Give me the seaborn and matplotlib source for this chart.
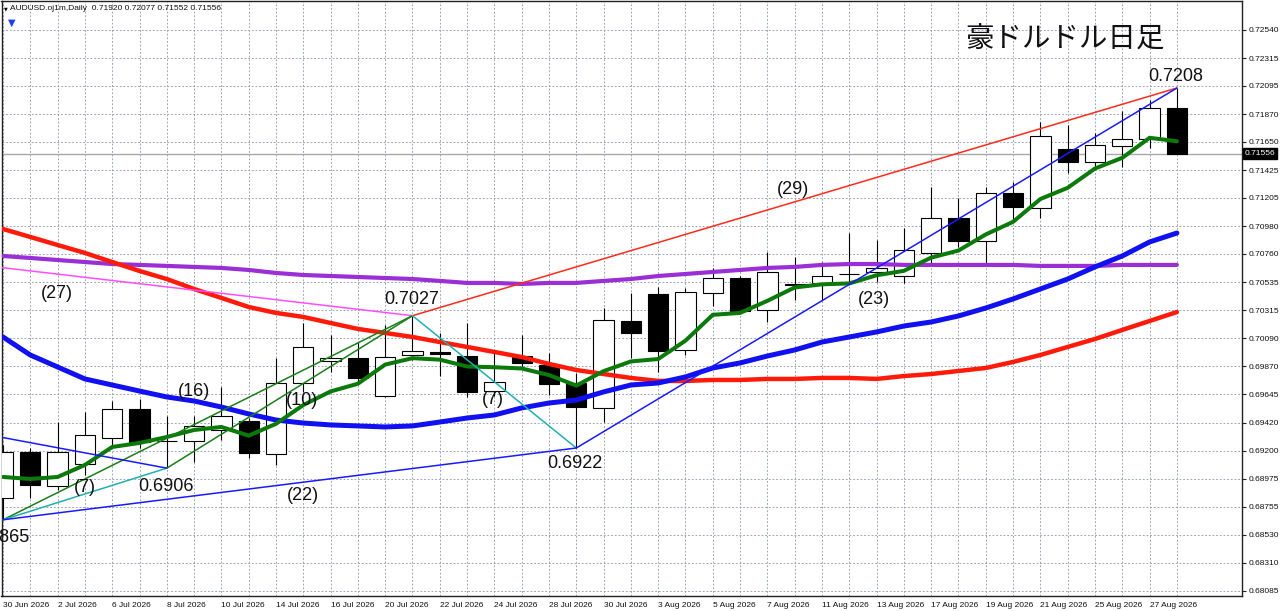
import numpy as np
import pandas as pd
import matplotlib
matplotlib.use("Agg")
import matplotlib.pyplot as plt
import matplotlib.transforms as mtransforms
import seaborn as sns

sns.set_style("white")
plt.rcParams['font.family'] = ['Liberation Sans', 'DejaVu Sans']

# daily bars, 30 Jun 2026 .. 28 Aug 2026
dates = pd.bdate_range("2026-06-30", periods=44)
date_labels = [f"{d.day} {d.strftime('%b %Y')}" for d in dates]

opens = [0.68823, 0.69188, 0.68918, 0.69093, 0.69299, 0.69530, 0.69276, 0.69276, 0.69363, 0.69434,
         0.69172, 0.69736, 0.69911, 0.69934, 0.69633, 0.69958, 0.69982, 0.69950, 0.69672, 0.69950,
         0.69879, 0.69736, 0.69538, 0.70228, 0.70442, 0.69998, 0.70450, 0.70569, 0.70315, 0.70522,
         0.70530, 0.70601, 0.70617, 0.70585, 0.70768, 0.71046, 0.70863, 0.71244, 0.71125, 0.71593,
         0.71490, 0.71617, 0.71673, 0.71920]
highs = [0.69244, 0.69220, 0.69426, 0.69506, 0.69593, 0.69609, 0.69474, 0.69474, 0.69704, 0.69458,
         0.69934, 0.70212, 0.70117, 0.70061, 0.70196, 0.70270, 0.70133, 0.70212, 0.69982, 0.70117,
         0.69974, 0.69815, 0.70331, 0.70450, 0.70498, 0.70490, 0.70649, 0.70585, 0.70776, 0.70736,
         0.70696, 0.70926, 0.70871, 0.70966, 0.71292, 0.71204, 0.71292, 0.71331, 0.71808, 0.71784,
         0.71720, 0.71895, 0.71982, 0.72077]
lows = [0.68650, 0.68823, 0.68887, 0.69006, 0.69228, 0.69220, 0.69060, 0.69109, 0.69284, 0.69141,
        0.69085, 0.69665, 0.69823, 0.69736, 0.69625, 0.69918, 0.69791, 0.69625, 0.69633, 0.69863,
        0.69641, 0.69220, 0.69426, 0.69934, 0.69823, 0.69958, 0.70347, 0.70299, 0.70220, 0.70395,
        0.70395, 0.70538, 0.70538, 0.70530, 0.70688, 0.70815, 0.70688, 0.71014, 0.71046, 0.71403,
        0.71450, 0.71450, 0.71601, 0.71552]
closes = [0.69188, 0.68926, 0.69188, 0.69323, 0.69530, 0.69268, 0.69272, 0.69395, 0.69474, 0.69180,
          0.69736, 0.70022, 0.69934, 0.69776, 0.69942, 0.69990, 0.69962, 0.69665, 0.69744, 0.69895,
          0.69728, 0.69545, 0.70236, 0.70133, 0.69990, 0.70458, 0.70569, 0.70307, 0.70617, 0.70514,
          0.70585, 0.70597, 0.70649, 0.70792, 0.71046, 0.70863, 0.71244, 0.71133, 0.71696, 0.71490,
          0.71625, 0.71673, 0.71920, 0.71556]

ma_green = [0.68990, 0.68974, 0.68990, 0.69085, 0.69228, 0.69260, 0.69307, 0.69363, 0.69387, 0.69318,
            0.69412, 0.69561, 0.69669, 0.69730, 0.69882, 0.69933, 0.69921, 0.69867, 0.69861, 0.69851,
            0.69799, 0.69715, 0.69830, 0.69907, 0.69926, 0.70072, 0.70277, 0.70292, 0.70388, 0.70494,
            0.70519, 0.70526, 0.70591, 0.70626, 0.70731, 0.70787, 0.70915, 0.71015, 0.71196, 0.71285,
            0.71438, 0.71523, 0.71682, 0.71654]
ma_blue = [0.70101, 0.69958, 0.69863, 0.69768, 0.69720, 0.69672, 0.69625, 0.69593, 0.69545, 0.69490,
           0.69442, 0.69418, 0.69403, 0.69395, 0.69387, 0.69395, 0.69426, 0.69458, 0.69482, 0.69538,
           0.69577, 0.69601, 0.69665, 0.69720, 0.69736, 0.69784, 0.69855, 0.69895, 0.69950, 0.69998,
           0.70061, 0.70101, 0.70141, 0.70188, 0.70220, 0.70268, 0.70331, 0.70403, 0.70482, 0.70561,
           0.70657, 0.70744, 0.70855, 0.70926]
ma_red = [0.70958, 0.70895, 0.70831, 0.70768, 0.70696, 0.70625, 0.70561, 0.70482, 0.70411, 0.70339,
          0.70292, 0.70260, 0.70212, 0.70165, 0.70133, 0.70101, 0.70061, 0.70022, 0.69982, 0.69942,
          0.69887, 0.69839, 0.69807, 0.69776, 0.69752, 0.69752, 0.69760, 0.69760, 0.69768, 0.69768,
          0.69776, 0.69776, 0.69768, 0.69791, 0.69807, 0.69831, 0.69855, 0.69903, 0.69958, 0.70022,
          0.70085, 0.70157, 0.70228, 0.70299]
ma_purple = [0.70744, 0.70728, 0.70712, 0.70696, 0.70680, 0.70673, 0.70665, 0.70657, 0.70649, 0.70633,
             0.70609, 0.70593, 0.70585, 0.70577, 0.70569, 0.70561, 0.70546, 0.70530, 0.70530, 0.70522,
             0.70530, 0.70530, 0.70546, 0.70561, 0.70585, 0.70601, 0.70617, 0.70633, 0.70649, 0.70657,
             0.70673, 0.70680, 0.70680, 0.70673, 0.70673, 0.70673, 0.70673, 0.70673, 0.70665, 0.70665,
             0.70665, 0.70673, 0.70673, 0.70673]

price_ticks = ["0.68085", "0.68310", "0.68530", "0.68755", "0.68975", "0.69200", "0.69420",
               "0.69645", "0.69870", "0.70090", "0.70315", "0.70535", "0.70760", "0.70980",
               "0.71205", "0.71425", "0.71650", "0.71870", "0.72095", "0.72315", "0.72540"]
last_price = 0.71556

# swing points (bar index, price) used by the hand drawn lines
swing_low0 = (0, 0.6865)
swing_low6 = (6, 0.6906)
swing_high15 = (15, 0.7027)
swing_low21 = (21, 0.6922)
swing_high43 = (43, 0.72077)
prev_high_a = (-11, 0.7093)
prev_high_b = (-5, 0.69505)

count_labels = [("(27)", 1.98, 0.70446), ("(7)", 2.99, 0.68906), ("(16)", 7.0, 0.69668),
                ("(10)", 10.97, 0.69597), ("(22)", 10.97, 0.68843), ("(7)", 17.95, 0.69605),
                ("(29)", 28.94, 0.71268), ("(23)", 31.9, 0.70398)]

df = pd.DataFrame({"bar": np.arange(len(opens)), "open": opens, "high": highs,
                   "low": lows, "close": closes, "ma5": ma_green, "ma_b": ma_blue,
                   "ma_r": ma_red, "ma_p": ma_purple})

W, H = 1280, 611
fig = plt.figure(figsize=(W / 100, H / 100), dpi=100)
fig.patch.set_facecolor("white")
left_px, right_px, top_px, bot_px = 1.5, 1242, 1, 596
ax = fig.add_axes([left_px / W, (H - bot_px) / H, (right_px - left_px) / W, (bot_px - top_px) / H])
ax.set_facecolor("white")

bar_px = 27.3
ax.set_xlim((left_px - 3) / bar_px, (right_px - 3) / bar_px)
px_per_unit = 12600
ax.set_ylim(0.68085 - (bot_px - 591) / px_per_unit, 0.68085 + (591 - top_px) / px_per_unit)

# grid
grid_c = "#8d98aa"
for v in price_ticks:
    ax.axhline(float(v), color=grid_c, lw=0.6, dashes=(2.2, 2.2), zorder=0)
for b in df["bar"]:
    ax.axvline(b, color=grid_c, lw=0.6, dashes=(2.2, 2.2), zorder=0)

# candles
ax.vlines(df["bar"], df["low"], df["high"], color="black", lw=0.8, zorder=2)
bull = df["close"] >= df["open"]
body_lo = np.minimum(df["open"], df["close"])
body_h = np.maximum((df["close"] - df["open"]).abs(), 0.00003)
ax.bar(df["bar"][bull], body_h[bull], bottom=body_lo[bull], width=0.74,
       color="white", edgecolor="black", linewidth=0.8, zorder=3)
ax.bar(df["bar"][~bull], body_h[~bull], bottom=body_lo[~bull], width=0.74,
       color="black", edgecolor="black", linewidth=0.8, zorder=3)

# current price line
ax.axhline(last_price, color="#a8a8a8", lw=1.0, zorder=1)

# moving averages
sns.lineplot(data=df, x="bar", y="ma_p", color="#9a2fd6", lw=3.0, ax=ax, zorder=4)
sns.lineplot(data=df, x="bar", y="ma_r", color="#ff1a0a", lw=3.2, ax=ax, zorder=4)
sns.lineplot(data=df, x="bar", y="ma_b", color="#1010f0", lw=3.6, ax=ax, zorder=4)
sns.lineplot(data=df, x="bar", y="ma5", color="#0b7a0b", lw=2.9, ax=ax, zorder=5)

# trend lines
segments = [
    (swing_high15, swing_high43, "#ff2a1a"),
    (prev_high_a, swing_high15, "#ff4dff"),
    (swing_low0, swing_high15, "#1a7f1a"),
    (swing_low6, swing_high15, "#1a7f1a"),
    (swing_low0, swing_low6, "#20b0b0"),
    (swing_high15, swing_low21, "#20b0b0"),
    (swing_low0, swing_low21, "#1a1aff"),
    (swing_low21, swing_high43, "#1a1aff"),
    (prev_high_b, swing_low6, "#1a1aff"),
]
for (x0, y0), (x1, y1), c in segments:
    ax.plot([x0, x1], [y0, y1], color=c, lw=1.1, zorder=6)

# price labels at swing points
for (b, p), dy in [(swing_low0, -18), (swing_low6, -18), (swing_high15, 16),
                   (swing_low21, -16), (swing_high43, 12)]:
    txt = f"{p:.4f}"
    ax.annotate(txt, xy=(b, p), xytext=(-1 * 0.72, dy * 0.72), textcoords="offset points",
                ha="center", va="center", fontsize=13, color="#111111", zorder=7)
for lab, b, p in count_labels:
    ax.text(b, p, lab, ha="center", va="center", fontsize=13, color="#111111", zorder=7)

# axes styling
for s in ax.spines.values():
    s.set_color("#222222")
    s.set_linewidth(1.0)
ax.yaxis.tick_right()
ax.set_yticks([float(v) for v in price_ticks])
ax.set_yticklabels(price_ticks)
ax.set_xticks(df["bar"][::2])
ax.set_xticklabels(date_labels[::2], ha="left")
ax.tick_params(axis="both", labelsize=6, length=3, width=0.8, color="#222222",
               labelcolor="#111111", direction="out")
ax.tick_params(axis="x", pad=1.5)
ax.tick_params(axis="y", pad=2)
ax.set_xlabel("")
ax.set_ylabel("")

# last price tag on the price scale
tr = mtransforms.blended_transform_factory(ax.transAxes, ax.transData)
ax.text(1.0 + 3 / (right_px - left_px), last_price, "0.71556", transform=tr, ha="left",
        va="center", fontsize=6, color="white", zorder=8, clip_on=False,
        bbox=dict(facecolor="black", edgecolor="black", pad=1.3))

# header and title
fig.text(5.5 / W, 1 - 8.5 / H, "▼", fontsize=3.5, family=["DejaVu Sans"], color="black",
         ha="center", va="center")
fig.text(9.5 / W, 1 - 8.5 / H, "AUDUSD.oj1m,Daily  0.71920 0.72077 0.71552 0.71556",
         fontsize=6, color="#111111", ha="left", va="center")
fig.text(11.5 / W, 1 - 23 / H, "▼", fontsize=7, family=["DejaVu Sans"], color="#1a3cff",
         ha="center", va="center")
fig.text(1065 / W, 1 - 40 / H, "豪ドルドル日足", fontsize=20.5,
         family=["Noto Sans CJK JP", "DejaVu Sans"], color="#111111", ha="center", va="center")

fig.savefig("out.png", dpi=100, facecolor="white")
